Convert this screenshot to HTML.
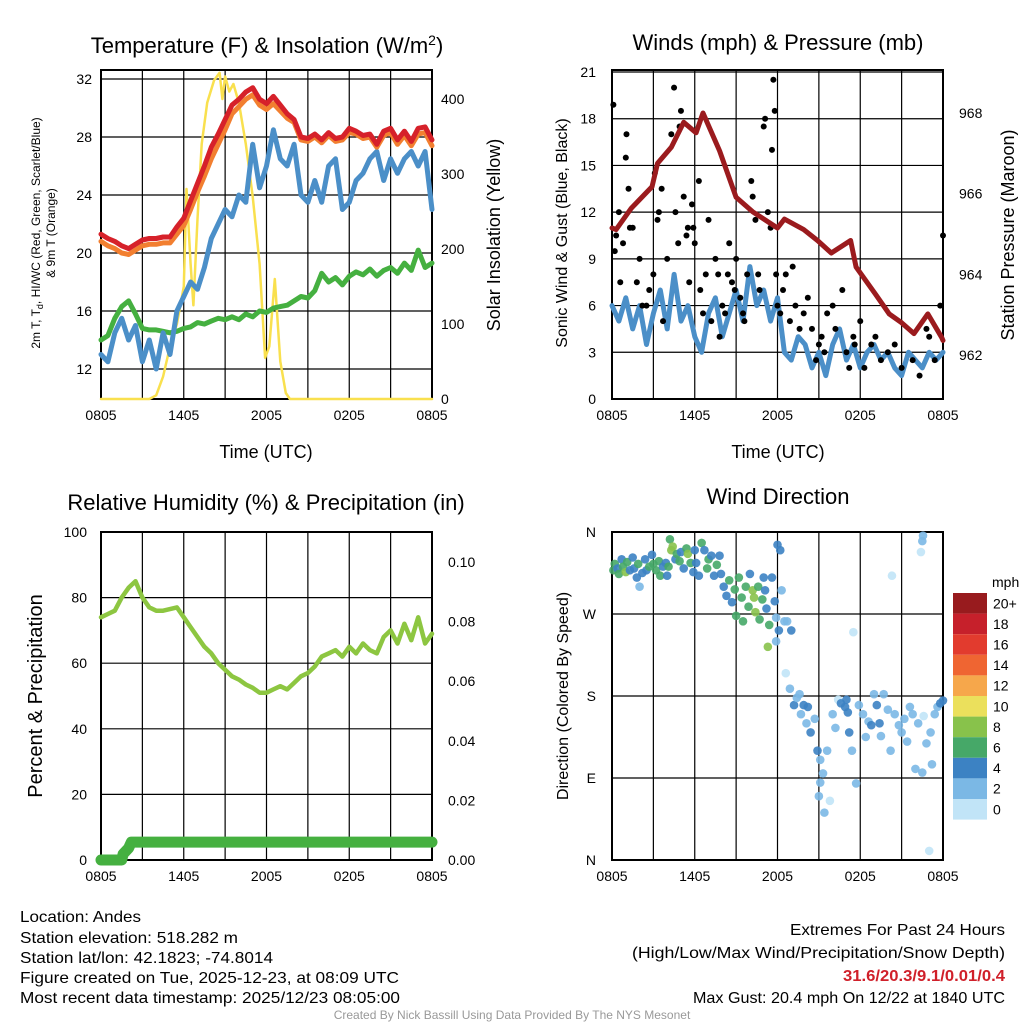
<!DOCTYPE html>
<html><head><meta charset="utf-8"><style>
html,body{margin:0;padding:0;background:#fff}
svg{display:block;font-family:"Liberation Sans",sans-serif}
</style></head><body>
<svg id="fig" width="1024" height="1024" viewBox="0 0 1024 1024" xmlns="http://www.w3.org/2000/svg">
<g id="layer"></g>
<g font-size="16" fill="#000">
<text x="20" y="922" textLength="121" lengthAdjust="spacingAndGlyphs">Location: Andes</text>
<text x="20" y="943" textLength="218" lengthAdjust="spacingAndGlyphs">Station elevation: 518.282 m</text>
<text x="20" y="963" textLength="253" lengthAdjust="spacingAndGlyphs">Station lat/lon: 42.1823; -74.8014</text>
<text x="20" y="983" textLength="379" lengthAdjust="spacingAndGlyphs">Figure created on Tue, 2025-12-23, at 08:09 UTC</text>
<text x="20" y="1003" textLength="380" lengthAdjust="spacingAndGlyphs">Most recent data timestamp: 2025/12/23 08:05:00</text>
<text x="790" y="935" textLength="215" lengthAdjust="spacingAndGlyphs">Extremes For Past 24 Hours</text>
<text x="632" y="958" textLength="373" lengthAdjust="spacingAndGlyphs">(High/Low/Max Wind/Precipitation/Snow Depth)</text>
<text x="843" y="981" textLength="162" lengthAdjust="spacingAndGlyphs" font-weight="bold" fill="#d0202a">31.6/20.3/9.1/0.01/0.4</text>
<text x="693" y="1003" textLength="312" lengthAdjust="spacingAndGlyphs">Max Gust: 20.4 mph On 12/22 at 1840 UTC</text>
<text x="512" y="1019" text-anchor="middle" font-size="12" fill="#999">Created By Nick Bassill Using Data Provided By The NYS Mesonet</text>
</g>
</svg>
<script>
// ---- data ----
const xTickLabels = ["0805","1405","2005","0205","0805"];
const halfHours = []; for (let i = 0; i <= 48; i++) halfHours.push(i * 0.5);
const tempRed = [21.3,21.0,20.8,20.5,20.3,20.6,20.9,21.0,21.0,21.1,21.1,21.8,22.4,23.6,24.8,26.0,27.3,28.2,29.2,30.2,30.6,31.1,31.4,30.6,30.3,30.8,30.2,29.6,29.2,28.0,27.9,28.2,27.8,28.3,27.9,28.0,28.6,28.4,28.1,28.2,27.5,28.4,28.6,27.8,28.4,27.7,28.6,28.7,27.8];
const temp9m = [20.8,20.5,20.3,20.0,19.9,20.2,20.5,20.6,20.6,20.7,20.7,21.3,21.9,23.0,24.2,25.3,26.5,27.5,28.5,29.6,30.1,30.6,30.9,30.2,29.9,30.3,29.8,29.3,29.0,27.8,27.7,28.0,27.6,28.1,27.7,27.8,28.3,28.2,27.9,28.0,27.3,28.1,28.3,27.5,28.1,27.4,28.2,28.3,27.4];
const windChill = [13.0,12.5,14.5,15.5,14.0,15.0,12.5,14.0,12.0,14.5,13.0,16.0,17.0,18.0,17.5,19.0,21.0,22.0,23.0,22.5,24.0,23.5,27.5,24.5,26.0,28.5,26.5,26.0,27.5,24.0,23.5,25.0,23.5,26.0,26.5,23.0,23.5,25.0,25.5,26.5,27.0,25.0,26.5,25.5,26.5,27.0,26.0,27.0,23.0];
const dewPoint = [14.0,14.3,15.5,16.3,16.7,15.8,14.8,14.7,14.7,14.6,14.5,14.6,14.8,14.9,15.2,15.1,15.3,15.5,15.4,15.6,15.4,15.8,15.6,16.0,15.9,16.2,16.3,16.4,16.7,17.0,16.9,17.4,18.6,18.0,18.3,17.8,18.4,18.7,18.5,18.9,18.4,18.8,19.0,18.6,19.3,18.8,20.2,19.0,19.3];
const solarHours = [0,3.5,4,4.5,5,5.5,6.0,6.2,6.5,6.7,7,7.3,7.7,8.2,8.6,8.8,9.0,9.3,9.6,10,10.5,11,11.5,11.9,12.2,12.6,13.0,13.4,13.7,24];
const solarValues = [0,0,5,30,70,100,150,280,180,125,240,340,395,425,435,400,430,410,420,395,340,270,180,55,70,160,50,8,0,0];
const windSpeed = [6,5,6.5,4.5,6,3.5,5.5,7,4.5,8,5,6,4,3,5.5,6.5,4,5.5,7,5,8.5,6,7,5,6.5,3,2.5,4,3.5,2,3,1.5,3.5,4.5,2.5,3.5,2,3,3.5,2.5,3,2,1.5,3,2.5,2,3,2.5,3];
const pressHours = [0,0.3,1.4,2.9,3.3,4.3,5.2,6.1,6.6,7.8,9.0,10.2,12.0,12.5,13.9,14.9,15.9,17.3,17.7,19.1,20.1,21.0,21.9,22.9,23.9,24];
const pressValues = [965.15,965.11,965.64,966.17,966.75,967.15,967.77,967.51,968.0,967.06,965.91,965.55,965.15,965.37,965.11,964.84,964.53,964.84,964.18,963.51,963.02,962.8,962.53,963.02,962.44,962.36];
const gustHours = [0.1,0.2,0.3,0.5,0.6,0.8,1.0,1.05,1.2,1.3,1.5,1.8,2.0,2.2,2.5,2.7,3.0,3.1,3.3,3.4,3.6,3.7,4.0,4.3,4.5,4.6,4.8,4.9,5.0,5.2,5.4,5.5,5.6,5.8,5.9,6.0,6.3,6.4,6.6,6.8,7.0,7.2,7.5,7.7,7.8,8.0,8.2,8.4,8.5,8.7,8.9,9.0,9.3,9.5,9.6,9.8,10.1,10.2,10.4,10.6,10.7,11.0,11.1,11.3,11.5,11.6,11.7,11.8,11.9,12.0,12.2,12.4,12.6,12.9,13.1,13.3,13.6,13.9,14.2,14.5,14.8,15.0,15.2,15.4,15.6,16.0,16.2,16.7,17.0,17.2,17.5,17.6,18.0,18.3,18.8,19.1,19.5,20.0,20.5,21.0,21.8,22.3,22.8,23.0,23.4,23.8,24.0];
const gustValues = [18.9,9.5,10.5,12,7.5,10,15.5,17,13.5,11,11,7.5,9,6,6,7,8,14.5,11.5,12,13.5,5,9,17,20,12,10,17.5,18.5,13,10.5,11,7.5,12.5,11,10,14,7,5.5,8,11.5,5,9,8,4,6,5.5,8,10,7.5,7,9,6.5,5.5,5,8,14,13,11.5,8,7,17.5,18,12,11,16,20.5,18.5,8,6,5.5,7,8,5,8.5,6,4.5,5.5,6.5,4.5,2.5,3.5,4,3,5.5,6,4.5,7,3,2,4,3.5,5,2,3.5,4,2.5,3,3.5,2,2.5,1.5,4.5,4,2.5,6,10.5];
const rhValues = [74,75,76,80,83,85,80,77,76,76,76.5,77,74,71,68,65,63,60,58,56,55,53.5,52.5,51,51,52,53,52,54,56,57,59,62,63,64,62,65,63,66,64,63,68,70,66,72,67,74,66,69];
const precipHours = [0,1.0,1.5,1.6,1.8,2.0,2.2,24];
const precipValues = [0,0,0,0.002,0.003,0.004,0.006,0.006];
const dirHours = [
 0.1,0.2,0.4,0.5,0.7,0.8,1.0,1.1,1.3,1.5,
 1.6,1.8,1.9,2.0,2.2,2.4,2.5,2.7,2.9,3.0,
 3.2,3.4,3.5,3.7,3.9,4.0,4.1,4.2,4.3,4.4,
 4.6,4.7,4.9,5.0,5.2,5.4,5.5,5.7,5.9,6.0,
 6.1,6.3,6.5,6.7,6.9,7.0,7.2,7.4,7.6,7.8,
 7.9,8.1,8.3,8.5,8.7,8.9,9.0,9.2,9.4,9.5,
 9.7,9.9,10.0,10.2,10.3,10.4,10.6,10.7,10.9,11.0,
 11.1,11.2,11.3,11.4,11.6,11.8,11.9,12.0,12.1,12.3,
 12.5,12.7,13.0,12.2,11.9,12.6,12.9,13.2,13.4,13.6,
 13.7,13.9,14.1,14.2,14.4,14.7,14.9,15.1,15.3,15.1,
 15.0,15.4,15.6,15.8,16.0,16.2,16.4,16.6,16.9,17.1,
 17.0,17.2,17.4,17.7,17.5,17.9,18.2,18.4,18.6,18.8,
 19.0,19.2,19.4,19.5,19.7,20.0,20.2,20.3,20.5,20.8,
 21.0,21.2,21.4,21.6,21.8,22.0,22.2,22.5,22.5,22.6,
 22.8,23.0,23.1,23.2,23.4,23.6,23.8,24.0,22.4,22.55];
const dirValues = [
 318,325,320,314,330,322,316,327,318,332,
 320,310,325,300,315,330,318,322,335,325,
 318,328,312,322,326,312,322,352,340,344,
 330,336,328,338,320,342,336,326,316,340,
 326,312,348,340,320,330,334,312,324,334,
 314,300,290,307,283,297,268,310,288,262,
 300,278,314,296,288,272,300,264,286,310,
 296,276,234,258,310,284,266,346,252,296,
 262,262,252,340,240,205,188,170,178,182,
 160,170,150,168,140,155,120,110,95,85,
 70,52,120,65,160,145,176,172,168,162,
 176,140,120,84,250,170,160,135,152,148,
 182,170,150,136,182,165,120,312,160,148,
 140,155,130,168,160,100,150,350,96,158,
 128,10,140,105,160,168,172,175,338,356];
const dirSpeeds = [
 6,6,5,7,5,6,8,6,5,5,
 4,4,6,3,5,4,5,6,5,7,
 6,6,6,5,5,4,6,6,8,9,
 5,6,7,5,4,7,8,6,4,5,
 5,5,6,4,6,6,5,5,6,4,
 5,5,4,6,4,6,6,6,7,6,
 6,7,5,9,8,8,7,6,6,4,
 5,5,8,6,4,4,3,4,4,3,
 3,2,4,4,3,1,3,4,3,3,
 3,4,3,4,4,3,4,3,3,3,
 3,2,2,1,2,3,1,4,4,5,
 4,4,3,3,1,3,3,3,3,4,
 3,4,4,3,2,3,2,1,3,2,
 3,3,2,2,3,3,2,2,2,1,
 2,1,2,2,3,3,4,4,1,2];
const colorbarLabels = ["20+","18","16","14","12","10","8","6","4","2","0"];
const colorbarColors = ["#981b1e","#c6202b","#e23b2e","#ef6532","#f6a74b","#ebe05c","#88c24b","#46a868","#3c82c3","#7bb8e5","#c1e4f7"];

// ---- helpers ----
const NS = "http://www.w3.org/2000/svg";
const layer = document.getElementById("layer");
function mk(tag, attrs, parent) {
  const e = document.createElementNS(NS, tag);
  for (const k in attrs) e.setAttribute(k, attrs[k]);
  (parent || layer).appendChild(e);
  return e;
}
function txt(x, y, s, size, anchor, parent, extra) {
  const t = mk("text", Object.assign({x: x, y: y, "font-size": size, "text-anchor": anchor || "start", fill: "#000"}, extra || {}), parent);
  t.textContent = s;
  return t;
}
function lin(d0, d1, r0, r1) { return v => r0 + (v - d0) / (d1 - d0) * (r1 - r0); }
function pathFrom(xs, ys, fx, fy) {
  const n = Math.min(xs.length, ys.length);
  let d = "";
  for (let i = 0; i < n; i++) d += (i ? "L" : "M") + fx(xs[i]).toFixed(1) + "," + fy(ys[i]).toFixed(1);
  return d;
}

function panelFrame(name, x0, x1, y0, y1, hLines) {
  const g = mk("g", {});
  
  
  const fx = lin(0, 24, x0, x1);
  for (let h = 3; h < 24; h += 3) {
    const l = mk("line", {x1: fx(h), x2: fx(h), y1: y0, y2: y1, stroke: "#000", "stroke-width": 1.2}, g);
    
    
  }
  hLines.forEach(y => {
    const l = mk("line", {x1: x0, x2: x1, y1: y, y2: y, stroke: "#000", "stroke-width": 1.2}, g);
    
    
  });
  const r = mk("rect", {x: x0, y: y0, width: x1 - x0, height: y1 - y0, fill: "none", stroke: "#000", "stroke-width": 2}, g);
  
  
  xTickLabels.forEach((s, i) => {
    const t = txt(fx(i * 6), y1 + 21, s, 14, "middle", g);
    
    
  });
  return {g: g, fx: fx};
}
function series(g, name, d, color, w) {
  const p = mk("path", {d: d, fill: "none", stroke: color, "stroke-width": w, "stroke-linejoin": "round", "stroke-linecap": "round"}, g);
  
  
  return p;
}

// ---- Panel 1: temperature ----
(function(){
  const X0 = 101, X1 = 432, Y0 = 70, Y1 = 399;
  const fy = lin(12, 32, 369, 79);
  const fs = lin(0, 400, 399, 99);
  const hl = []; for (let v = 12; v <= 32; v += 4) hl.push(fy(v));
  const P = panelFrame("temperature-panel", X0, X1, Y0, Y1, hl);
  const g = P.g, fx = P.fx;
  series(g, "solar-insolation-line", pathFrom(solarHours, solarValues, fx, fs), "#f9e04e", 2.5);
  series(g, "dewpoint-line", pathFrom(halfHours, dewPoint, fx, fy), "#45b040", 5);
  series(g, "windchill-line", pathFrom(halfHours, windChill, fx, fy), "#4b8fc8", 5);
  series(g, "temp-9m-line", pathFrom(halfHours, temp9m, fx, fy), "#f27f30", 5);
  series(g, "temp-2m-line", pathFrom(halfHours, tempRed, fx, fy), "#d6212a", 5);
  for (let v = 12; v <= 32; v += 4) {
    const t = txt(X0 - 9, fy(v) + 5, String(v), 14, "end", g);
    
    
  }
  for (let v = 0; v <= 400; v += 100) {
    const t = txt(X1 + 9, fs(v) + 5, String(v), 14, "start", g);
    
    
  }
  const title = txt(267, 53, "Temperature (F) & Insolation (W/m", 22, "middle", g);
  const sup = mk("tspan", {dy: -8, "font-size": 14}, title); sup.textContent = "2";
  const cl = mk("tspan", {dy: 8}, title); cl.textContent = ")";
  
  
  const xl = txt(266, 458, "Time (UTC)", 18, "middle", g);
  
  
  const yl1 = txt(0, 0, "2m T, T", 12, "middle", g, {transform: "translate(40,233) rotate(-90)"});
  const sub = mk("tspan", {dy: 3, "font-size": 9}, yl1); sub.textContent = "d";
  const rest = mk("tspan", {dy: -3}, yl1); rest.textContent = ", HI/WC (Red, Green, Scarlet/Blue)";
  
  
  const yl2 = txt(0, 0, "& 9m T (Orange)", 12, "middle", g, {transform: "translate(55,233) rotate(-90)"});
  
  
  const yr = txt(0, 0, "Solar Insolation (Yellow)", 18, "middle", g, {transform: "translate(500,235) rotate(-90)"});
  
  
})();

// ---- Panel 2: winds ----
(function(){
  const X0 = 612, X1 = 943, Y0 = 70, Y1 = 399;
  const fy = lin(0, 21, 399, 72);
  const fp = lin(962, 968, 355, 113);
  const hl = []; for (let v = 3; v <= 21; v += 3) hl.push(fy(v));
  const P = panelFrame("winds-panel", X0, X1, Y0, Y1, hl);
  const g = P.g, fx = P.fx;
  series(g, "sonic-wind-line", pathFrom(halfHours, windSpeed, fx, fy), "#4b8fc8", 5);
  gustHours.forEach((h, i) => {
    const c = mk("circle", {cx: fx(h), cy: fy(gustValues[i]), r: 3, fill: "#000"}, g);
    
    
  });
  series(g, "pressure-line", pathFrom(pressHours, pressValues, fx, fp), "#9b1b1e", 5);
  for (let v = 0; v <= 21; v += 3) {
    const t = txt(X0 - 16, fy(v) + 5, String(v), 14, "end", g);
    
    
  }
  for (let v = 962; v <= 968; v += 2) {
    const t = txt(X1 + 16, fp(v) + 5, String(v), 14, "start", g);
    
    
  }
  const title = txt(778, 50, "Winds (mph) & Pressure (mb)", 22, "middle", g);
  
  
  const xl = txt(778, 458, "Time (UTC)", 18, "middle", g);
  
  
  const yl = txt(0, 0, "Sonic Wind & Gust (Blue, Black)", 16, "middle", g, {transform: "translate(567,233) rotate(-90)"});
  
  
  const yr = txt(0, 0, "Station Pressure (Maroon)", 18, "middle", g, {transform: "translate(1014,235) rotate(-90)"});
  
  
})();

// ---- Panel 3: RH & precip ----
(function(){
  const X0 = 101, X1 = 432, Y0 = 532, Y1 = 860;
  const fy = lin(0, 100, 860, 532);
  const fq = lin(0, 0.1, 860, 562);
  const hl = []; for (let v = 20; v <= 80; v += 20) hl.push(fy(v));
  const P = panelFrame("humidity-panel", X0, X1, Y0, Y1, hl);
  const g = P.g, fx = P.fx;
  series(g, "relative-humidity-line", pathFrom(halfHours, rhValues, fx, fy), "#8dc641", 4.5);
  series(g, "precipitation-line", pathFrom(precipHours, precipValues, fx, fq), "#45b040", 11);
  for (let v = 0; v <= 100; v += 20) {
    const t = txt(X0 - 14, fy(v) + 5, String(v), 14, "end", g);
    
    
  }
  for (let i = 0; i <= 5; i++) {
    const v = i * 0.02;
    const t = txt(X1 + 16, fq(v) + 5, v.toFixed(2), 14, "start", g);
    
    
  }
  const title = txt(266, 510, "Relative Humidity (%) & Precipitation (in)", 22, "middle", g);
  
  
  const yl = txt(0, 0, "Percent & Precipitation", 20, "middle", g, {transform: "translate(42,696) rotate(-90)"});
  
  
})();

// ---- Panel 4: wind direction ----
(function(){
  const X0 = 612, X1 = 943, Y0 = 532, Y1 = 860;
  const fy = lin(0, 360, 860, 532);
  const dirLabels = ["N","E","S","W","N"];
  const hl = []; for (let i = 1; i <= 3; i++) hl.push(fy(i * 90));
  const P = panelFrame("wind-direction-panel", X0, X1, Y0, Y1, hl);
  const g = P.g, fx = P.fx;
  function colorFor(s) { const idx = Math.min(10, Math.floor(s / 2)); return colorbarColors[10 - idx]; }
  const n = Math.min(dirHours.length, dirValues.length, dirSpeeds.length);
  for (let i = 0; i < n; i++) {
    const c = mk("circle", {cx: fx(dirHours[i]), cy: fy(dirValues[i]), r: 4.3, fill: colorFor(dirSpeeds[i]), opacity: 0.9}, g);
    
    
  }
  dirLabels.forEach((s, i) => {
    const t = txt(X0 - 16, fy(i * 90) + 5, s, 14, "end", g);
    
    
  });
  const title = txt(778, 504, "Wind Direction", 22, "middle", g);
  
  
  const yl = txt(0, 0, "Direction (Colored By Speed)", 16, "middle", g, {transform: "translate(568,696) rotate(-90)"});
  
  
  const cb = mk("g", {});
  
  
  const cy0 = 593, ch = 20.6;
  colorbarColors.forEach((c, i) => {
    const r = mk("rect", {x: 953, y: cy0 + i * ch, width: 34, height: ch, fill: c}, cb);
    
    
    const t = txt(993, cy0 + i * ch + ch / 2 + 5, colorbarLabels[i], 14, "start", cb);
    
    
  });
  const u = txt(992, 587, "mph", 14, "start", cb);
  
  
})();
</script>
</body></html>
